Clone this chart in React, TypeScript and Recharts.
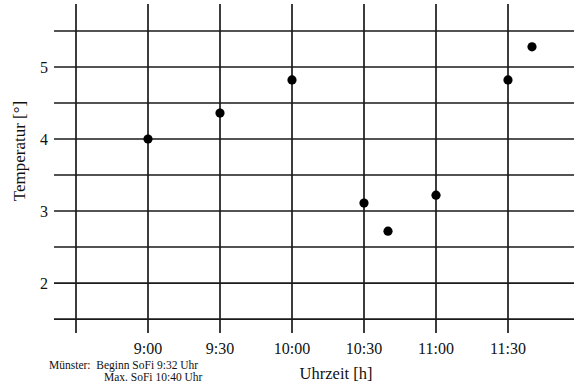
import { ScatterChart, Scatter, XAxis, YAxis, ReferenceLine } from 'recharts';

// measured temperatures during the eclipse (time of day, °C)
const times = ['9:00', '9:30', '10:00', '10:30', '10:40', '11:00', '11:30', '11:40'];
const temps = [4.0, 4.36, 4.82, 3.11, 2.72, 3.22, 4.82, 5.28];

// grid / tick labels
const gridTimes = ['8:30', '9:00', '9:30', '10:00', '10:30', '11:00', '11:30'];
const labeledTimes = ['9:00', '9:30', '10:00', '10:30', '11:00', '11:30'];
const gridTemps = [1.5, 2, 2.5, 3, 3.5, 4, 4.5, 5, 5.5];
const labeledTemps = [2, 3, 4, 5];

const noteLines = ['Münster:  Beginn SoFi 9:32 Uhr', 'Max. SoFi 10:40 Uhr'];

const toMin = (t: string) => {
    const [h, m] = t.split(':').map(Number);
    return h * 60 + m;
};
const toLabel = (v: number) => {
    const h = Math.floor(v / 60);
    const m = Math.round(v - h * 60);
    return `${h}:${m < 10 ? '0' + m : m}`;
};

const data = times.map((t, i) => ({ x: toMin(t), y: temps[i] }));

const FONT = '"Liberation Serif", "Times New Roman", serif';
const LINE = '#1a1a1a';

const Dot = (props: any) => <circle cx={props.cx} cy={props.cy} r={4.6} fill="#000" />;

export default function App() {
    return (
        <div style={{ position: 'absolute', left: 0, top: 0, width: 574, height: 383, overflow: 'hidden', background: '#fff', fontFamily: FONT }}>
            <ScatterChart width={574} height={383} margin={{ top: 4, right: 0, bottom: 0, left: 0 }}>
                <XAxis
                    type="number"
                    dataKey="x"
                    domain={[500.833, 717.5]}
                    allowDataOverflow
                    ticks={gridTimes.map(toMin)}
                    tickFormatter={(v: number) => (labeledTimes.includes(toLabel(v)) ? toLabel(v) : '')}
                    axisLine={false}
                    tickLine={false}
                    tickSize={0}
                    tickMargin={10}
                    height={50}
                    interval={0}
                    tick={{ fill: '#111', fontSize: 16, fontFamily: FONT }}
                />
                <YAxis
                    type="number"
                    dataKey="y"
                    domain={[1.306, 5.875]}
                    allowDataOverflow
                    ticks={gridTemps}
                    tickFormatter={(v: number) => (labeledTemps.includes(v) ? String(v) : '')}
                    axisLine={false}
                    tickLine={false}
                    tickSize={0}
                    tickMargin={6}
                    width={54}
                    interval={0}
                    tick={{ fill: '#111', fontSize: 16, fontFamily: FONT }}
                />
                {gridTemps.map(v => (
                    <ReferenceLine key={`h${v}`} y={v} stroke={LINE} strokeWidth={1.7} />
                ))}
                {gridTimes.map(t => (
                    <ReferenceLine key={`v${t}`} x={toMin(t)} stroke={LINE} strokeWidth={1.7} />
                ))}
                <Scatter data={data} shape={Dot} isAnimationActive={false} />
            </ScatterChart>
            <div style={{ position: 'absolute', left: 19, top: 151, transform: 'translate(-50%, -50%) rotate(-90deg)', whiteSpace: 'nowrap', fontSize: 17, color: '#111', lineHeight: 1 }}>
                Temperatur [°]
            </div>
            <div style={{ position: 'absolute', left: 336, top: 374, transform: 'translate(-50%, -50%)', whiteSpace: 'nowrap', fontSize: 16.5, color: '#111', lineHeight: 1 }}>
                Uhrzeit [h]
            </div>
            <div style={{ position: 'absolute', left: 49, top: 359, fontSize: 11.5, color: '#111', lineHeight: '12px', whiteSpace: 'pre' }}>
                {noteLines[0]}
                <br />
                <span style={{ paddingLeft: 55 }}>{noteLines[1]}</span>
            </div>
        </div>
    );
}
